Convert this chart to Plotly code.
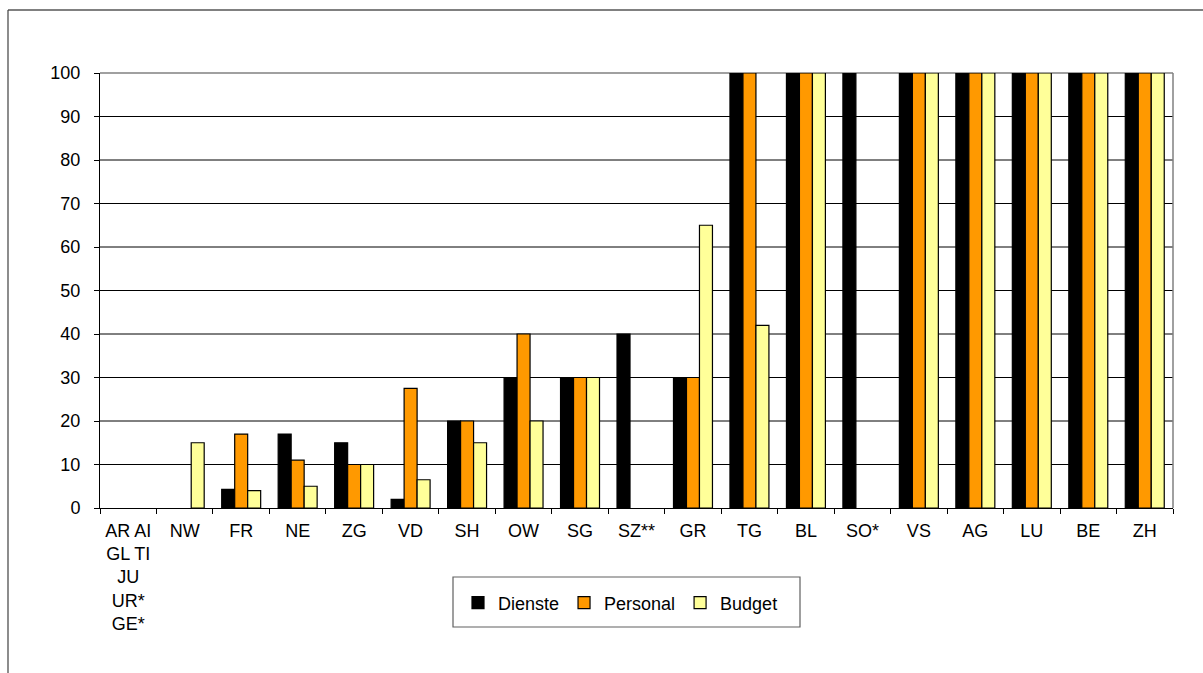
import plotly.graph_objects as go

# Cantons (x categories) and the three series, in percent
cantons = ["AR AI<br>GL TI<br>JU<br>UR*<br>GE*", "NW", "FR", "NE", "ZG", "VD", "SH", "OW",
           "SG", "SZ**", "GR", "TG", "BL", "SO*", "VS", "AG", "LU", "BE", "ZH"]
dienste = [None, None, 4.3, 17, 15, 2, 20, 30, 30, 40, 30, 100, 100, 100, 100, 100, 100, 100, 100]
personal = [None, None, 17, 11, 10, 27.5, 20, 40, 30, None, 30, 100, 100, None, 100, 100, 100, 100, 100]
budget = [None, 15, 4, 5, 10, 6.5, 15, 20, 30, None, 65, 42, 100, None, 100, 100, 100, 100, 100]
y_ticks = list(range(0, 101, 10))

W, H = 1203, 673
L, R, T, B = 100, 30, 73, 165
pw, ph = W - L - R, H - T - B

def px(x):
    return (x - L) / pw

def py(y):
    return (H - B - y) / ph

FONT = "Liberation Sans, Arial, sans-serif"

fig = go.Figure()
series = [("Dienste", dienste, "#000000"),
          ("Personal", personal, "#FF9900"),
          ("Budget", budget, "#FFFF99")]
for name, vals, col in series:
    fig.add_trace(go.Bar(
        name=name, x=cantons, y=vals,
        marker=dict(color=col, line=dict(color="#000000", width=1.2)),
    ))

shapes = []
# horizontal grid lines
for v in y_ticks[1:-1]:
    shapes.append(dict(type="line", xref="paper", yref="y", x0=0, x1=1, y0=v, y1=v,
                       line=dict(color="#000000", width=1), layer="below"))
# top and right border of the plot area
shapes.append(dict(type="line", xref="paper", yref="paper", x0=0, x1=1, y0=1, y1=1,
                   line=dict(color="#808080", width=1.5), layer="below"))
shapes.append(dict(type="line", xref="paper", yref="paper", x0=1, x1=1, y0=0, y1=1,
                   line=dict(color="#808080", width=1.5), layer="below"))
# outer chart frame
shapes.append(dict(type="line", xref="paper", yref="paper", x0=px(8), x1=px(1210),
                   y0=py(10), y1=py(10), line=dict(color="#808080", width=2)))
shapes.append(dict(type="line", xref="paper", yref="paper", x0=px(8), x1=px(8),
                   y0=py(10), y1=py(680), line=dict(color="#404040", width=1.2)))
# legend box
shapes.append(dict(type="rect", xref="paper", yref="paper", x0=px(453), x1=px(800),
                   y0=py(577), y1=py(627), line=dict(color="#606060", width=1.2),
                   fillcolor="rgba(0,0,0,0)"))

fig.update_layout(
    width=W, height=H,
    margin=dict(l=L, r=R, t=T, b=B),
    paper_bgcolor="white", plot_bgcolor="white",
    barmode="group", bargap=0.31, bargroupgap=0,
    font=dict(family=FONT, size=18, color="#000000"),
    showlegend=True,
    legend=dict(orientation="h", x=px(458), xanchor="left", y=py(603), yanchor="middle",
                bgcolor="rgba(0,0,0,0)", borderwidth=0,
                font=dict(family=FONT, size=18, color="#000000")),
    shapes=shapes,
    xaxis=dict(type="category", tickson="boundaries", ticks="outside", ticklen=5,
               tickcolor="#000000", showline=True, linecolor="#000000", linewidth=1,
               showgrid=False, tickfont=dict(family=FONT, size=18), tickangle=0,
               ticklabelstandoff=6),
    yaxis=dict(range=[0, 100], tickvals=y_ticks, ticks="outside", ticklen=5,
               tickcolor="#000000", showline=True, linecolor="#000000", linewidth=1,
               showgrid=False, zeroline=False, tickfont=dict(family=FONT, size=18),
               ticklabelstandoff=10),
)

fig.write_html("out.html")
